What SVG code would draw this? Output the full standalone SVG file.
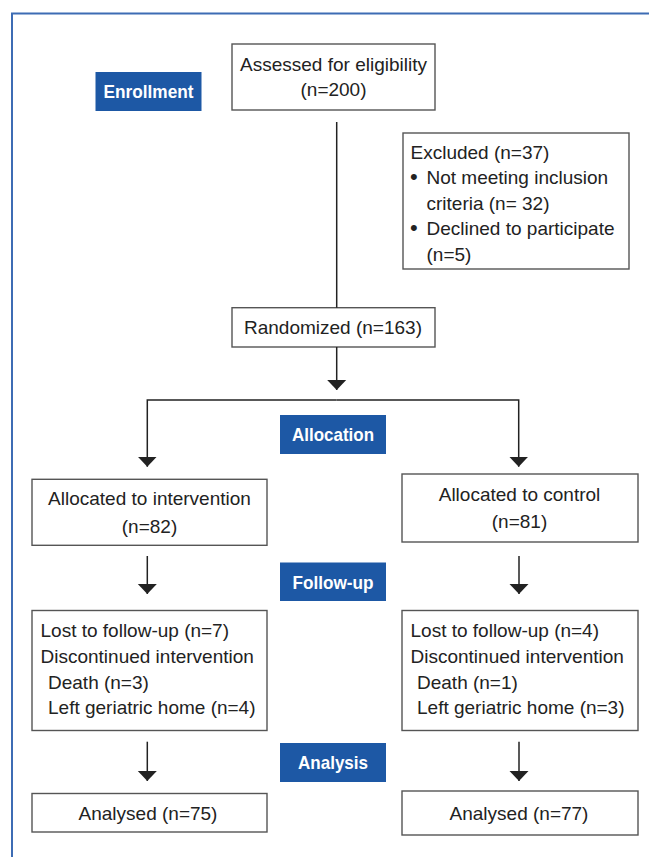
<svg xmlns="http://www.w3.org/2000/svg" width="649" height="857" viewBox="0 0 649 857">
<style>
.frame{fill:none;stroke:#3d6cb4;stroke-width:2}
.box{fill:#fff;stroke:#555;stroke-width:1.4}
.lbl{fill:#1d58a5}
.t{font-family:"Liberation Sans",Arial,sans-serif;font-size:19px;fill:#222}
.c{text-anchor:middle}
.w{font-family:"Liberation Sans",Arial,sans-serif;font-size:19px;font-weight:bold;fill:#fff;text-anchor:middle}
.ln{fill:none;stroke:#222;stroke-width:1.5}
</style>
<defs>
<marker id="ah" markerUnits="userSpaceOnUse" markerWidth="20" markerHeight="12" viewBox="0 0 20 12" refX="10" refY="10" orient="0">
<path d="M0.5,0 L19.5,0 L10,10 Z" fill="#222"/>
</marker>
</defs>
<rect width="649" height="857" fill="#fff"/>
<path class="frame" d="M12,857 V13.5 H649"/>

<g id="enrollment"><rect class="lbl" x="95.5" y="72" width="106" height="39"/><text class="w" x="148.5" y="98" textLength="90" lengthAdjust="spacingAndGlyphs">Enrollment</text></g>
<g id="allocation"><rect class="lbl" x="280" y="415" width="106" height="39"/><text class="w" x="333" y="441" textLength="82" lengthAdjust="spacingAndGlyphs">Allocation</text></g>
<g id="followup"><rect class="lbl" x="280" y="562.5" width="106" height="38.5"/><text class="w" x="333" y="588.5" textLength="81" lengthAdjust="spacingAndGlyphs">Follow-up</text></g>
<g id="analysis"><rect class="lbl" x="280" y="743" width="106" height="39"/><text class="w" x="333" y="769" textLength="70" lengthAdjust="spacingAndGlyphs">Analysis</text></g>

<g id="assessed"><rect class="box" x="232" y="44" width="203" height="66"/>
<text class="t c" x="333.5" y="70.5">Assessed for eligibility</text>
<text class="t c" x="333.5" y="96">(n=200)</text></g>

<g id="excluded"><rect class="box" x="403" y="133" width="226" height="136"/>
<text class="t" x="410.5" y="159">Excluded (n=37)</text>
<text class="t" x="410" y="184" style="font-size:22px">•</text><text class="t" x="426.5" y="184">Not meeting inclusion</text>
<text class="t" x="426.5" y="209.5">criteria (n= 32)</text>
<text class="t" x="410" y="235" style="font-size:22px">•</text><text class="t" x="426.5" y="235">Declined to participate</text>
<text class="t" x="426.5" y="260.5">(n=5)</text></g>

<g id="randomized"><rect class="box" x="232" y="307.7" width="203" height="39.3"/>
<text class="t c" x="333" y="334">Randomized (n=163)</text></g>

<g id="alloc-int"><rect class="box" x="32" y="479.3" width="235" height="66"/>
<text class="t c" x="149.5" y="505">Allocated to intervention</text>
<text class="t c" x="149.5" y="532.5">(n=82)</text></g>

<g id="alloc-ctl"><rect class="box" x="402" y="474" width="236" height="68"/>
<text class="t c" x="519.5" y="500.5">Allocated to control</text>
<text class="t c" x="519.5" y="528">(n=81)</text></g>

<g id="lost-int"><rect class="box" x="32" y="610.5" width="235" height="120"/>
<text class="t" x="40.5" y="637">Lost to follow-up (n=7)</text>
<text class="t" x="40.5" y="663">Discontinued intervention</text>
<text class="t" x="48" y="688.5">Death (n=3)</text>
<text class="t" x="48" y="714">Left geriatric home (n=4)</text></g>

<g id="lost-ctl"><rect class="box" x="402" y="610.5" width="236" height="120"/>
<text class="t" x="410.5" y="637">Lost to follow-up (n=4)</text>
<text class="t" x="410.5" y="663">Discontinued intervention</text>
<text class="t" x="417" y="688.5">Death (n=1)</text>
<text class="t" x="417" y="714">Left geriatric home (n=3)</text></g>

<g id="analysed-int"><rect class="box" x="32" y="793.5" width="235" height="38.5"/>
<text class="t c" x="148" y="820">Analysed (n=75)</text></g>

<g id="analysed-ctl"><rect class="box" x="402" y="791" width="236" height="44"/>
<text class="t c" x="519" y="820">Analysed (n=77)</text></g>

<g id="connectors">
<path class="ln" d="M336.7,122 V307.7"/>
<path class="ln" d="M336.7,347 V390" marker-end="url(#ah)"/>
<path class="ln" d="M336.7,400 H147.3 V466.7" marker-end="url(#ah)"/>
<path class="ln" d="M336.7,400 H518.7 V466.7" marker-end="url(#ah)"/>
<path class="ln" d="M147.3,556 V594" marker-end="url(#ah)"/>
<path class="ln" d="M519,556 V594" marker-end="url(#ah)"/>
<path class="ln" d="M147.3,741.7 V781" marker-end="url(#ah)"/>
<path class="ln" d="M519,741.7 V781" marker-end="url(#ah)"/>
</g>
</svg>
